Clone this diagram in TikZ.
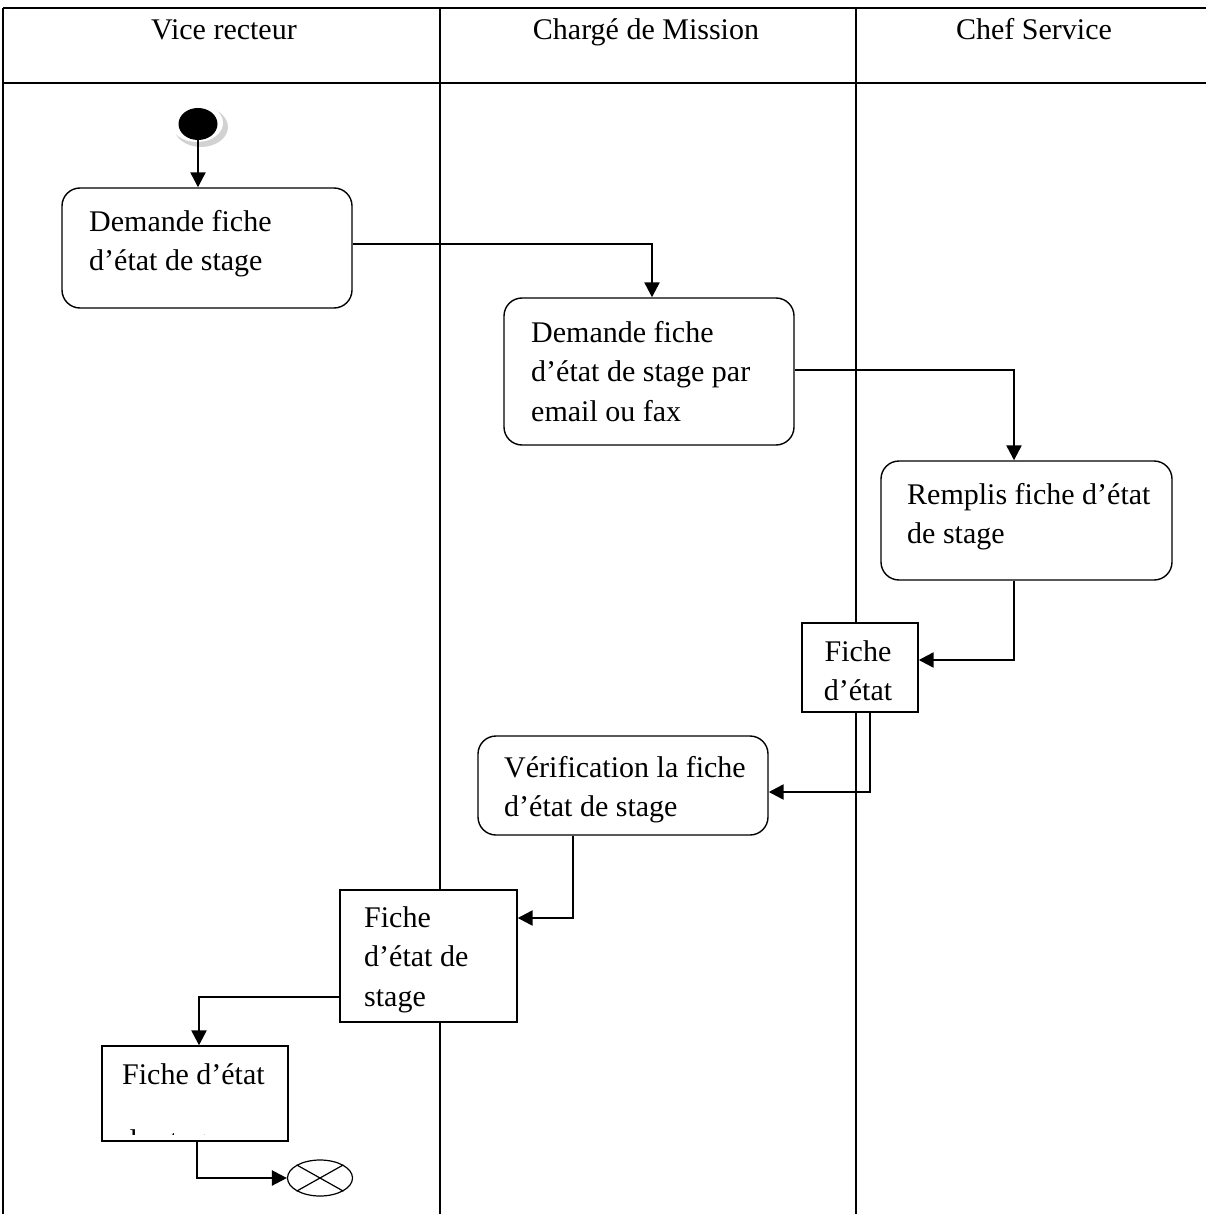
\documentclass[tikz,border=0pt]{standalone}
\usepackage{fontspec}
\setmainfont{Liberation Serif}
\usetikzlibrary{arrows.meta,shapes.geometric}
\begin{document}
\begin{tikzpicture}[x=1pt,y=-1pt,
  frame/.style={line width=1.8pt},
  lane/.style={line width=1.3pt},
  act/.style={draw,fill=white,rounded corners=18pt,line width=1.4pt,inner sep=0pt},
  obj/.style={draw,fill=white,line width=1.4pt,inner sep=0pt},
  flow/.style={line width=2.4pt,-{Triangle[length=15pt,width=15pt]}},
  txt/.style={font=\fontsize{30}{39.5}\selectfont,inner sep=0pt,align=left,anchor=north west},
  head/.style={font=\fontsize{30}{36}\selectfont,inner sep=0pt,anchor=base}]
\useasboundingbox (0,0) rectangle (1206,1214);

% swimlane table
\draw[frame] (3,8) -- (1206,8);
\draw[frame] (3,83) -- (1206,83);
\draw[frame] (3,8) -- (3,1214);
\draw[lane] (440,8) -- (440,1214);
\draw[lane] (856,8) -- (856,1214);
\node[head] (h1) at (224,40) {Vice recteur};
\node[head] (h2) at (646,40) {Chargé de Mission};
\node[head] (h3) at (1034,40) {Chef Service};

% initial state with its soft shadow
\fill[gray!35] (201,127) ellipse [x radius=27,y radius=20];
\fill[white] (197,123) ellipse [x radius=26,y radius=19];
\node[ellipse,fill=black,minimum width=39,minimum height=32,inner sep=0pt] (start) at (198,124) {};

% activities
\node[act,minimum width=290,minimum height=120] (a1) at (207,248) {};
\node[txt] (t1) at (89,210) {Demande fiche\\d’état de stage};

\node[act,minimum width=290,minimum height=147] (a2) at (649,371.5) {};
\node[txt] (t2) at (531,321) {Demande fiche\\d’état de stage par\\email ou fax};

\node[act,minimum width=291,minimum height=119] (a3) at (1026.5,520.5) {};
\node[txt] (t3) at (907,483) {Remplis fiche d’état\\de stage};

\node[obj,minimum width=116,minimum height=89] (o1) at (860,667.5) {};
\node[txt,align=center,anchor=north] (t4) at (858,640) {Fiche\\d’état};

\node[act,minimum width=290,minimum height=99] (a4) at (623,785.5) {};
\node[txt] (t5) at (504,756) {Vérification la fiche\\d’état de stage};

\node[obj,minimum width=177,minimum height=132] (o2) at (428.5,956) {};
\node[txt] (t6) at (364,906) {Fiche\\d’état de\\stage};

\node[obj,minimum width=186,minimum height=95] (o3) at (195,1093.5) {};
\node[txt] (t7) at (122,1063) {Fiche d’état};
\begin{scope}
  \clip (104,1128) rectangle (286,1134);
  \node[txt] (t8) at (122,1129) {de stage};
\end{scope}

% final state
\node[draw,ellipse,line width=1.2pt,minimum width=65,minimum height=36,inner sep=0pt] (end) at (320,1178) {};
\draw[line width=1.2pt] (end.north west) -- (end.south east);
\draw[line width=1.2pt] (end.south west) -- (end.north east);

% control flows
\draw[flow] (start.south) -- (start.south |- a1.north);
\draw[flow] ([yshift=4pt]a1.east) -| ([xshift=3pt]a2.north);
\draw[flow] ([yshift=1.5pt]a2.east) -| ([xshift=-12.5pt]a3.north);
\draw[flow] ([xshift=-12.5pt]a3.south) |- ([yshift=7.5pt]o1.east);
\draw[flow] ([xshift=10pt]o1.south) |- ([yshift=-6.5pt]a4.east);
\draw[flow] ([xshift=-50pt]a4.south) |- ([yshift=38pt]o2.east);
\draw[flow] ([yshift=-41pt]o2.west) -| ([xshift=4pt]o3.north);
\draw[flow] ([xshift=2pt]o3.south) |- (end.west);
\end{tikzpicture}
\end{document}
